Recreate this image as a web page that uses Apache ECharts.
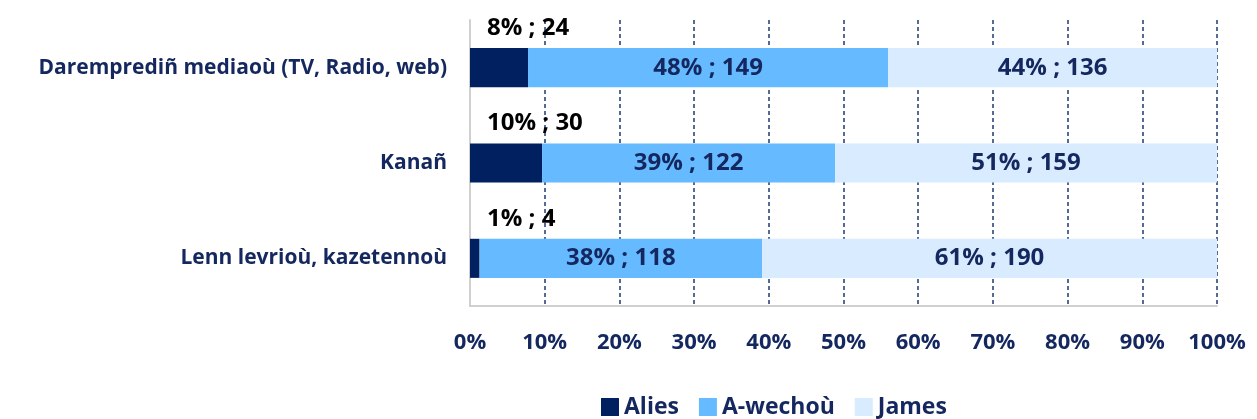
<!DOCTYPE html>
<html>
<head>
<meta charset="utf-8">
<script src="https://cdn.jsdelivr.net/npm/echarts@6/dist/echarts.min.js"></script>
<style>
  html, body { margin: 0; padding: 0; background: #fff; }
  #chart { width: 1257px; height: 419px; }
</style>
</head>
<body>
<div id="chart"></div>
<script>
var categories = ['Darempredi\u00f1 mediao\u00f9 (TV, Radio, web)', 'Kana\u00f1', 'Lenn levrio\u00f9, kazetenno\u00f9'];
var seriesNames = ['Alies', 'A-wecho\u00f9', 'James'];
var alies = [24, 30, 4];
var awechou = [149, 122, 118];
var james = [136, 159, 190];
var tickLabels = ['0%', '10%', '20%', '30%', '40%', '50%', '60%', '70%', '80%', '90%', '100%'];

var navy = '#14285f';
var font = '"Open Sans", sans-serif';
var colors = ['#002060', '#66baff', '#d9ecff'];

var totals = categories.map(function (c, i) { return alies[i] + awechou[i] + james[i]; });

function build(values) {
    return values.map(function (v, i) {
        return { value: v / totals[i] * 100, count: v };
    });
}

function fmt(p) {
    return Math.round(p.value) + '% ; ' + p.data.count;
}

var chart = echarts.init(document.getElementById('chart'));

var opt = {
    animation: false,
    color: colors,
    textStyle: { fontFamily: font },
    legend: {
        data: seriesNames,
        icon: 'rect',
        top: 393,
        left: 601,
        padding: 0,
        itemWidth: 18,
        itemHeight: 18,
        itemGap: 20,
        textStyle: { color: navy, fontSize: 23, fontWeight: 'bold', fontFamily: font, lineHeight: 28 }
    },
    grid: {
        top: 20,
        left: 470,
        right: 40,
        bottom: 113
    },
    xAxis: {
        type: 'value',
        min: 0,
        max: 100,
        interval: 10,
        axisLine: { show: true, lineStyle: { color: '#d0d0d0', width: 2 } },
        axisTick: { show: false },
        splitLine: { lineStyle: { color: '#1f3a75', type: [4, 3], width: 1.5 } },
        axisLabel: {
            margin: 26,
            color: navy,
            fontSize: 22,
            fontWeight: 'bold',
            fontFamily: font,
            formatter: function (v) { return tickLabels[Math.round(v / 10)]; }
        }
    },
    yAxis: {
        type: 'category',
        data: categories,
        inverse: true,
        axisLine: { show: true, lineStyle: { color: '#d0d0d0', width: 2 } },
        axisTick: { show: false },
        axisLabel: {
            margin: 23,
            color: navy,
            fontSize: 21,
            fontWeight: 'bold',
            fontFamily: font
        }
    },
    series: [
        {
            name: seriesNames[0],
            type: 'bar',
            stack: 'all',
            barWidth: '41%',
            data: build(alies),
            label: {
                show: true,
                position: [17, -32],
                color: '#000',
                fontSize: 24,
                fontWeight: 'bold',
                fontFamily: font,
                formatter: fmt
            }
        },
        {
            name: seriesNames[1],
            type: 'bar',
            stack: 'all',
            data: build(awechou),
            label: {
                show: true,
                position: 'inside',
                color: navy,
                fontSize: 24,
                fontWeight: 'bold',
                fontFamily: font,
                formatter: fmt
            }
        },
        {
            name: seriesNames[2],
            type: 'bar',
            stack: 'all',
            data: build(james),
            label: {
                show: true,
                position: 'inside',
                color: navy,
                fontSize: 24,
                fontWeight: 'bold',
                fontFamily: font,
                formatter: fmt
            }
        }
    ]
};

chart.setOption(opt);

window.addEventListener('resize', function () {
    chart.resize();
});
</script>
</body>
</html>
